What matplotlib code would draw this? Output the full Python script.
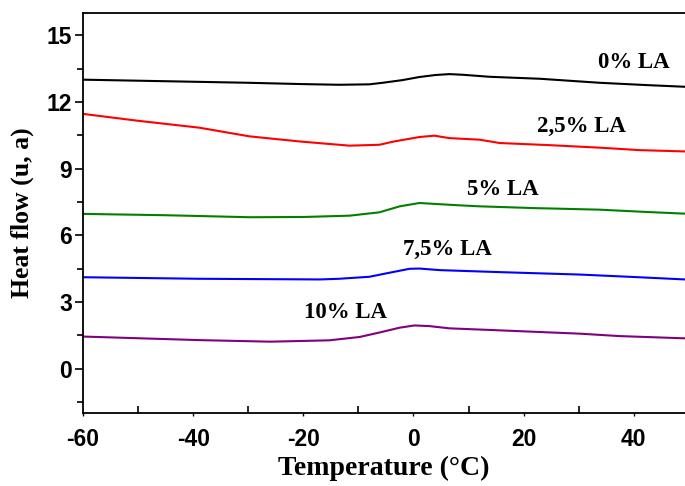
import matplotlib
matplotlib.use("Agg")
import matplotlib.pyplot as plt
from matplotlib.ticker import MultipleLocator

plt.rcParams["axes.unicode_minus"] = False

# Data
x_0 = [-60, -45, -30, -20, -13.5, -8, -5.6, -2, 1.1, 4, 6.5, 9, 13.8, 23, 33.8, 42, 49.3]
y_0 = [13.0, 12.93, 12.86, 12.80, 12.77, 12.79, 12.86, 12.98, 13.12, 13.21, 13.25, 13.22, 13.13, 13.04, 12.86, 12.76, 12.68]

x_25 = [-60, -50, -38.9, -29.8, -20.7, -11.6, -6.2, -3.5, 1.1, 3.8, 6.5, 12, 15.6, 25, 33.8, 41, 49.3]
y_25 = [11.46, 11.15, 10.84, 10.45, 10.22, 10.03, 10.07, 10.22, 10.42, 10.48, 10.37, 10.3, 10.15, 10.05, 9.94, 9.83, 9.77]

x_5 = [-60, -45, -29.8, -20, -11.6, -6.2, -2.5, 1.1, 3.8, 8, 12, 22, 33.8, 42, 49.3]
y_5 = [6.96, 6.90, 6.81, 6.82, 6.88, 7.03, 7.30, 7.45, 7.41, 7.35, 7.30, 7.22, 7.15, 7.05, 6.97]

x_75 = [-60, -38.9, -17, -13.5, -8, -4.4, -0.7, 1.1, 4.7, 15.6, 30.2, 40, 49.3]
y_75 = [4.11, 4.04, 4.01, 4.04, 4.13, 4.31, 4.49, 4.50, 4.43, 4.34, 4.23, 4.12, 4.01]

x_10 = [-60, -38.9, -26, -15.3, -9.8, -6.2, -2.5, 0.2, 2.9, 6.5, 15.6, 30.2, 37.5, 49.3]
y_10 = [1.44, 1.28, 1.21, 1.27, 1.42, 1.62, 1.84, 1.94, 1.91, 1.81, 1.72, 1.57, 1.46, 1.36]

labels = ["0% LA", "2,5% LA", "5% LA", "7,5% LA", "10% LA"]
label_x = [40.0, 30.5, 16.3, 6.2, -12.3]
label_y = [13.75, 10.9, 8.05, 5.35, 2.53]
colors = ["black", "#ff0000", "#008000", "#0000ff", "#800080"]

series = [(x_0, y_0), (x_25, y_25), (x_5, y_5), (x_75, y_75), (x_10, y_10)]

fig = plt.figure(figsize=(6.85, 4.86), dpi=100)
ax = fig.add_axes([83/685, 1 - 413/486, 1 - 83/685, (413 - 13)/486])

for (xs, ys), c in zip(series, colors):
    ax.plot(xs, ys, color=c, lw=1.5)

for t, lx, ly in zip(labels, label_x, label_y):
    ax.text(lx, ly, t, ha="center", va="center", fontsize=16.5,
            fontweight="bold", family="Liberation Serif")

ax.set_xlim(-60, 49.3)
ax.set_ylim(-2, 16)
ax.spines["right"].set_visible(False)
for s in ["left", "bottom", "top"]:
    ax.spines[s].set_linewidth(1.3)

ax.xaxis.set_major_locator(MultipleLocator(20))
ax.xaxis.set_minor_locator(MultipleLocator(10))
ax.yaxis.set_major_locator(MultipleLocator(3))
ax.yaxis.set_minor_locator(MultipleLocator(1.5))

ax.tick_params(axis="x", which="major", direction="out", length=2.5, width=1, pad=8,
               top=False)
ax.tick_params(axis="x", which="minor", direction="in", length=5, width=1.2, top=False)
ax.tick_params(axis="y", which="major", direction="out", length=6, width=1.2, pad=2,
               right=False)
ax.tick_params(axis="y", which="minor", direction="out", length=4, width=1.2, right=False)

for lab in ax.get_xticklabels() + ax.get_yticklabels():
    lab.set_fontsize(16.5)
    lab.set_fontweight("bold")
    lab.set_family("Liberation Sans")

ax.set_xlabel("Temperature (°C)", fontsize=20, fontweight="bold",
              family="Liberation Serif", labelpad=4)
ax.set_ylabel("Heat flow (u, a)", fontsize=18.5, fontweight="bold",
              family="Liberation Serif", labelpad=9)

fig.savefig("out.png", dpi=100)
